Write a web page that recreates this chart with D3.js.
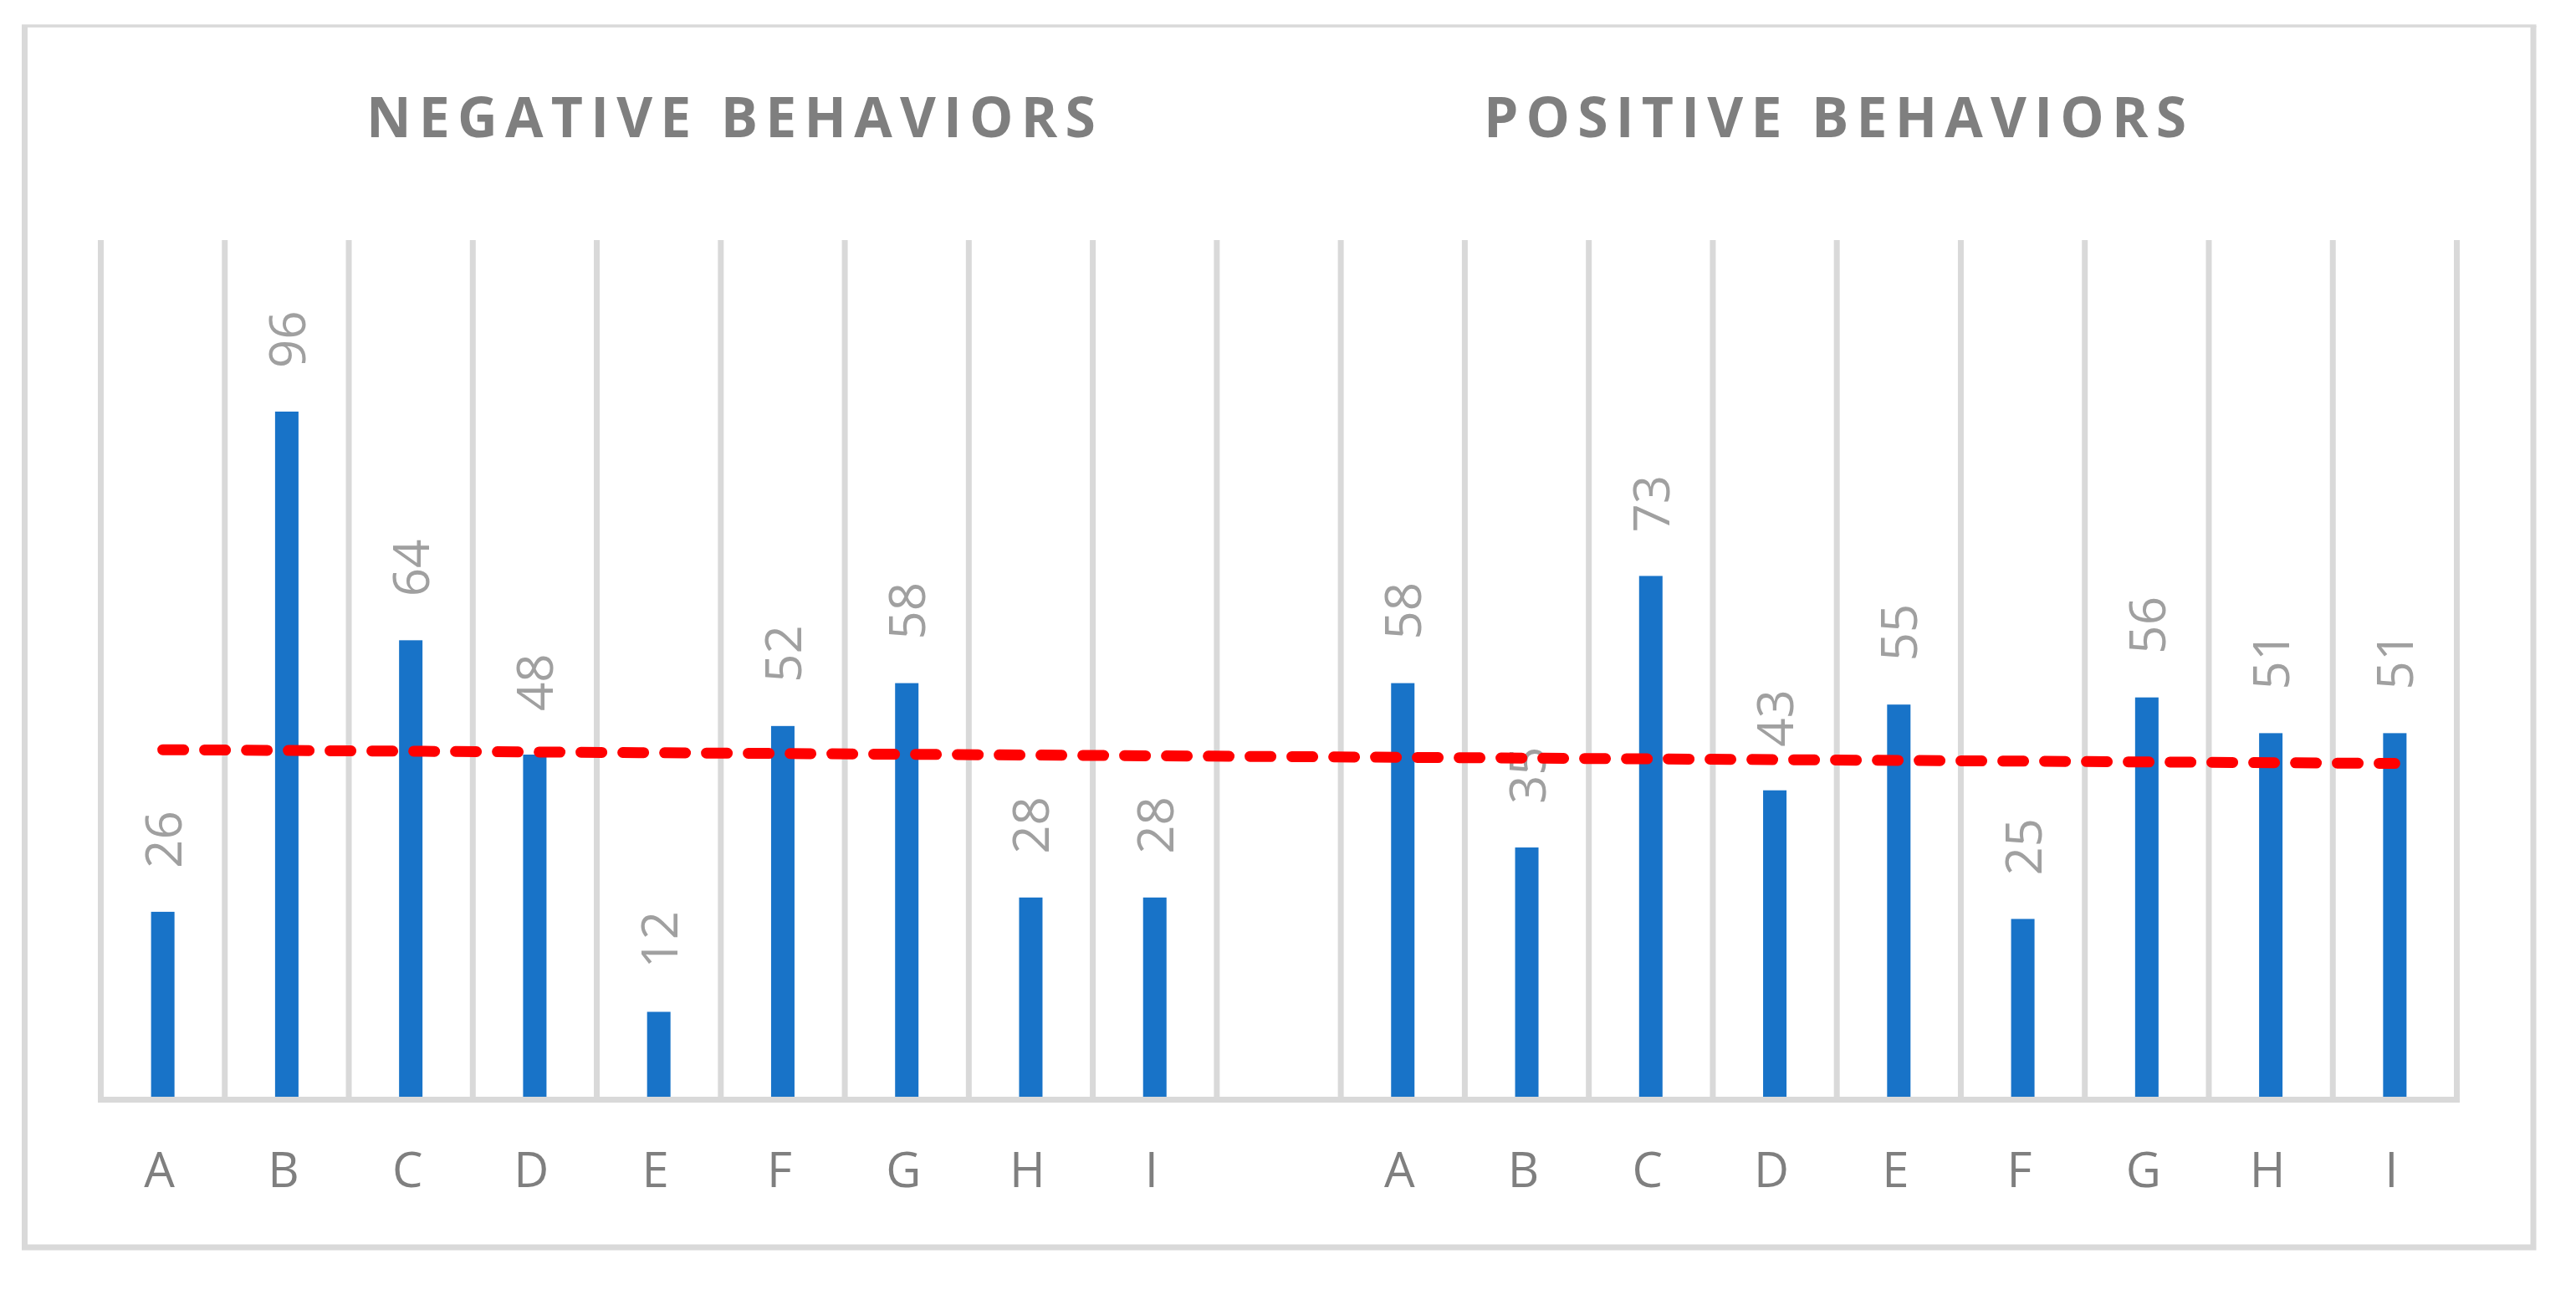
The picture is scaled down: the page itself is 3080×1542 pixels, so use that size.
<!DOCTYPE html>
<html>
<head>
<meta charset="utf-8">
<script src="https://cdn.jsdelivr.net/npm/d3@7/dist/d3.min.js"></script>
<style>
  body { margin: 0; background: #fff; }
  svg { display: block; }
</style>
</head>
<body>
<div id="svg_container"></div>
<script>
// chart values
var categories = ['A', 'B', 'C', 'D', 'E', 'F', 'G', 'H', 'I']
var negativeValues = [26, 96, 64, 48, 12, 52, 58, 28, 28]
var positiveValues = [58, 35, 73, 43, 55, 25, 56, 51, 51]
var groupTitles = ['NEGATIVE BEHAVIORS', 'POSITIVE BEHAVIORS']
var yTicks = [0, 120]

var width = 3080
var height = 1542

// one slot per bar, with an empty slot between the two groups
var slots = []
categories.forEach(function(c, i) { slots.push({key: 'neg-' + c, label: c, value: negativeValues[i]}) })
slots.push({key: 'gap', label: '', value: null})
categories.forEach(function(c, i) { slots.push({key: 'pos-' + c, label: c, value: positiveValues[i]}) })

var svg = d3.select('#svg_container')
  .append('svg')
    .attr('width', width)
    .attr('height', height)

// chart border (top edge is thinner in the original)
svg.append('path')
  .attr('d', 'M29.5,31 V1491 H3029 V31')
  .attr('fill', 'none')
  .attr('stroke', '#d9d9d9')
  .attr('stroke-width', 7)
svg.append('line')
  .attr('x1', 26).attr('x2', 3032.5)
  .attr('y1', 31).attr('y2', 31)
  .attr('stroke', '#d9d9d9')
  .attr('stroke-width', 3.5)

var x = d3.scaleBand()
  .domain(slots.map(function(d) { return d.key }))
  .range([120.5, 2937.5])
  .padding(0)

var y = d3.scaleLinear()
  .domain(d3.extent(yTicks))
  .range([1312, 287])

var barWidth = 28

// vertical gridlines on the slot edges
var edges = slots.map(function(d) { return x(d.key) }).concat([x.range()[1]])
svg.append('g')
  .attr('class', 'grid')
  .selectAll('line')
  .data(edges)
  .enter().append('line')
    .attr('x1', function(d) { return d })
    .attr('x2', function(d) { return d })
    .attr('y1', y(yTicks[1]))
    .attr('y2', y(0))
    .attr('stroke', '#d9d9d9')
    .attr('stroke-width', 7)

// bars
var bars = slots.filter(function(d) { return d.value !== null })
svg.append('g')
  .selectAll('rect')
  .data(bars)
  .enter().append('rect')
    .attr('x', function(d) { return x(d.key) + x.bandwidth() / 2 - barWidth / 2 })
    .attr('width', barWidth)
    .attr('y', function(d) { return y(d.value) })
    .attr('height', function(d) { return y(0) - y(d.value) })
    .attr('fill', '#1873c8')

// category axis
var xAxis = svg.append('g')
  .attr('class', 'axis axis--x')
  .attr('transform', 'translate(0,' + (y(0) + 2.5) + ')')
  .call(d3.axisBottom(x)
    .tickSize(0)
    .tickPadding(0)
    .tickFormat(function(k) { return slots.find(function(s) { return s.key == k }).label }))
xAxis.select('.domain')
  .attr('d', 'M117,0 H2941')
  .attr('stroke', '#d9d9d9')
  .attr('stroke-width', 7)
xAxis.selectAll('text')
  .attr('x', -4)
  .attr('y', 104.5)
  .attr('dy', 0)
  .attr('fill', '#7f7f7f')
  .style('font', '58px "Open Sans", sans-serif')

// data labels, rotated
svg.append('g')
  .selectAll('text')
  .data(bars)
  .enter().append('text')
    .attr('transform', function(d) {
      return 'translate(' + (x(d.key) + x.bandwidth() / 2 + 22) + ',' + (y(d.value) - 52) + ') rotate(-90)'
    })
    .attr('fill', '#a0a0a0')
    .style('font', '60px "Open Sans", sans-serif')
    .text(function(d) { return d.value })

// linear trendline over the slot numbers (gap slot has no value)
var pts = []
slots.forEach(function(d, i) { if (d.value !== null) pts.push([i, d.value]) })
var mx = d3.mean(pts, function(p) { return p[0] })
var my = d3.mean(pts, function(p) { return p[1] })
var slope = d3.sum(pts, function(p) { return (p[0] - mx) * (p[1] - my) }) /
  d3.sum(pts, function(p) { return (p[0] - mx) * (p[0] - mx) })
var trend = [0, slots.length - 1].map(function(i) { return {key: slots[i].key, value: my + slope * (i - mx)} })

var line = d3.line()
  .x(function(d) { return x(d.key) + x.bandwidth() / 2 })
  .y(function(d) { return y(d.value) })

svg.append('path')
  .datum(trend)
  .attr('d', line)
  .attr('fill', 'none')
  .attr('stroke', '#ff0000')
  .attr('stroke-width', 13)
  .attr('stroke-linecap', 'round')
  .attr('stroke-dasharray', '25 25')

// group titles
var titleX = [874, 2194]
svg.append('g')
  .selectAll('text')
  .data(groupTitles)
  .enter().append('text')
    .attr('x', function(d, i) { return titleX[i] + 4.6 })
    .attr('y', 164)
    .attr('text-anchor', 'middle')
    .attr('fill', '#7f7f7f')
    .style('font', 'bold 66px "Open Sans", sans-serif')
    .style('letter-spacing', '9.2px')
    .text(function(d) { return d })
</script>
</body>
</html>
